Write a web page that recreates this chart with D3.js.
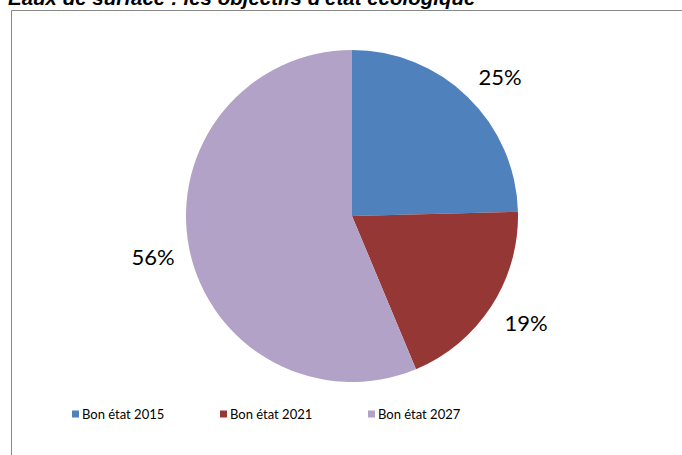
<!DOCTYPE html>
<html>
<head>
<meta charset="utf-8">
<script src="https://cdn.jsdelivr.net/npm/d3@7"></script>
<style>
  body { margin: 0; background: #fff; }
  svg { display: block; }
</style>
</head>
<body>
<svg id="chart" width="682" height="455"></svg>
<script>
// data
const categories = ["Bon état 2015", "Bon état 2021", "Bon état 2027"];
const values = [24.6, 19.1, 56.3];
const labels = ["25%", "19%", "56%"];
const colors = ["#4F81BD", "#953735", "#B3A2C7"];

const svg = d3.select("#chart");

// frame of the chart area (cut off on right and bottom)
svg.append("path")
  .attr("d", "M11.5,460 L11.5,10.5 L690,10.5")
  .attr("fill", "none")
  .attr("stroke", "#888")
  .attr("stroke-width", 1);

// title, clipped at the top like in the original
svg.append("text")
  .attr("x", 8)
  .attr("y", 5)
  .attr("font-family", "Liberation Sans, Arial, sans-serif")
  .attr("font-weight", "bold")
  .attr("font-style", "italic")
  .attr("font-size", 20.5)
  .attr("fill", "#000")
  .text("Eaux de surface : les objectifs d'état écologique");

const cx = 352, cy = 216, r = 166;

const pie = d3.pie().sort(null).value(d => d)(values);
const arc = d3.arc().innerRadius(0).outerRadius(r);

const g = svg.append("g").attr("transform", `translate(${cx},${cy})`);

g.selectAll("path.slice")
  .data(pie)
  .enter()
  .append("path")
  .attr("class", "slice")
  .attr("d", arc)
  .attr("fill", (d, i) => colors[i]);

// slice labels outside the pie
const labelPos = [[500, 77], [526, 323], [153, 257]];
svg.selectAll("text.pct")
  .data(pie)
  .enter()
  .append("text")
  .attr("class", "pct")
  .attr("x", (d, i) => labelPos[i][0])
  .attr("y", (d, i) => labelPos[i][1])
  .attr("dy", "0.36em")
  .attr("text-anchor", "middle")
  .attr("font-family", "Lato, sans-serif")
  .attr("font-size", 22)
  .attr("fill", "#000")
  .text((d, i) => labels[i]);

// legend
const legendX = d3.scalePoint().domain(categories).range([72, 368]);
const leg = svg.selectAll("g.leg")
  .data(categories)
  .enter()
  .append("g")
  .attr("class", "leg")
  .attr("transform", d => `translate(${legendX(d)},414)`);

leg.append("rect")
  .attr("x", 0)
  .attr("y", -3.5)
  .attr("width", 7)
  .attr("height", 7)
  .attr("fill", (d, i) => colors[i]);

leg.append("text")
  .attr("x", 10)
  .attr("y", 0)
  .attr("dy", "0.36em")
  .attr("font-family", "Lato, sans-serif")
  .attr("font-size", 13)
  .attr("fill", "#000")
  .text(d => d);
</script>
</body>
</html>
